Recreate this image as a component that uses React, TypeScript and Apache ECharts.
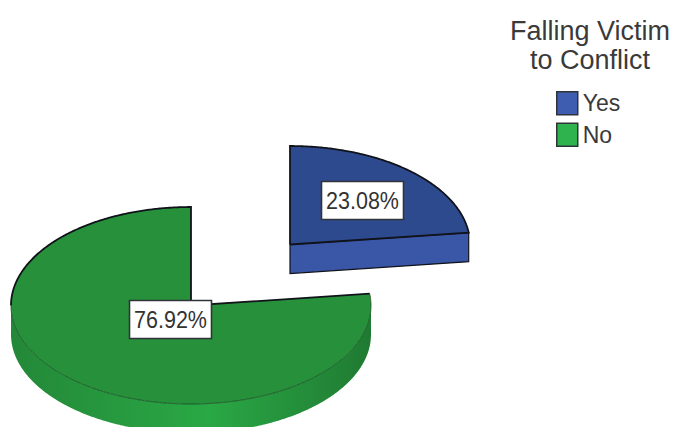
import React, { useEffect, useRef } from "react";
import * as echarts from "echarts";

// Share of respondents per answer, in percent.
const categories = ["Yes", "No"];
const shares = [23.08, 76.92];
const legendTitle = "Falling Victim\nto Conflict";

const FONT = '"Liberation Sans", Arial, sans-serif';
const RX = 180;
const RY = 98.5;
const DEPTH = 29;
const FIRST_ANGLE = 90; // the first slice starts at twelve o'clock and runs clockwise

// Per-slice drawing styles and placement (apex position, label offset from apex).
const looks = [
  {
    apex: [290, 244.5],
    label: [72.5, -44],
    top: "#2e4a8e",
    wall: "#3a56a6",
    swatch: "#3e5cb0",
    wallStops: ["#3a56a6", "#3a56a6", "#3a56a6"],
  },
  {
    apex: [191, 305.5],
    label: [-20.5, 14],
    top: "#26913a",
    wall: "#2aa845",
    swatch: "#2fb34f",
    wallStops: ["#238838", "#2aa845", "#1f7a32"],
  },
];

const toRad = (deg: number) => (deg * Math.PI) / 180;

function rimPoint(cx: number, cy: number, deg: number) {
  const a = toRad(deg);
  return [cx + RX * Math.cos(a), cy - RY * Math.sin(a)];
}

function rimPoints(cx: number, cy: number, from: number, to: number) {
  const pts: number[][] = [];
  const steps = Math.max(2, Math.ceil(Math.abs(to - from) * 2));
  for (let i = 0; i <= steps; i++) {
    pts.push(rimPoint(cx, cy, from + ((to - from) * i) / steps));
  }
  return pts;
}

function sliceRange(index: number) {
  const total = shares.reduce((s, v) => s + v, 0);
  const before = shares.slice(0, index).reduce((s, v) => s + v, 0);
  const start = FIRST_ANGLE - (before / total) * 360;
  const end = start - (shares[index] / total) * 360;
  return [start, end];
}

function makeRenderItem(index: number) {
  return (_params: any, api: any) => {
    const share = api.value(0);
    const look = looks[index];
    const [cx, cy] = look.apex;
    const [start, end] = sliceRange(index);
    const children: any[] = [];
    const outline = "#10131a";
    const heavy = { fill: "none", stroke: outline, lineWidth: 1.8 };

    // Outer wall: only the part of the rim on the near half of the ellipse shows.
    const wallFrom = Math.min(start, 0);
    const wallTo = Math.max(end, -180);
    if (wallFrom > wallTo) {
      const upper = rimPoints(cx, cy, wallFrom, wallTo);
      const lower = upper.map(([x, y]) => [x, y + DEPTH]).reverse();
      children.push({
        type: "polygon",
        shape: { points: [...upper, ...lower] },
        style: {
          fill: new echarts.graphic.LinearGradient(0, 0, 1, 0, [
            { offset: 0, color: look.wallStops[0] },
            { offset: 0.55, color: look.wallStops[1] },
            { offset: 1, color: look.wallStops[2] },
          ]),
        },
      });
    }

    // Cut face at the clockwise end of the slice, when it turns towards the viewer.
    if (Math.cos(toRad(end)) > 1e-6) {
      const tip = rimPoint(cx, cy, end);
      children.push({
        type: "polygon",
        shape: {
          points: [
            [cx, cy],
            tip,
            [tip[0], tip[1] + DEPTH],
            [cx, cy + DEPTH],
          ],
        },
        style: { fill: look.wall, stroke: outline, lineWidth: 1.2 },
      });
    }

    // Top face.
    const rim = rimPoints(cx, cy, start, end);
    children.push({
      type: "polygon",
      shape: { points: [[cx, cy], ...rim] },
      style: { fill: look.top },
    });

    // Heavy outline along the radii and the far rim, thin one along the near rim.
    if (end >= 0) {
      children.push({
        type: "polyline",
        shape: { points: [[cx, cy], ...rim, [cx, cy]] },
        style: heavy,
      });
    } else {
      const farEnd = end + 360;
      children.push({
        type: "polyline",
        shape: { points: [rimPoint(cx, cy, start), [cx, cy], ...rimPoints(cx, cy, farEnd, 180)] },
        style: heavy,
      });
      children.push({
        type: "polyline",
        shape: { points: rimPoints(cx, cy, 180, 360 + start) },
        style: { fill: "none", stroke: "#14481f", lineWidth: 0.8 },
      });
    }

    // Value label in a white box.
    const lx = cx + look.label[0];
    const ly = cy + look.label[1];
    children.push({
      type: "rect",
      shape: { x: lx - 41, y: ly - 19, width: 82, height: 38 },
      style: { fill: "#ffffff", stroke: "#30343a", lineWidth: 1.6 },
      z2: 10,
    });
    children.push({
      type: "text",
      x: lx,
      y: ly,
      scaleY: 1.14,
      style: {
        text: `${share.toFixed(2)}%`,
        fill: "#333333",
        font: `21.5px ${FONT}`,
        align: "center",
        verticalAlign: "middle",
      },
      z2: 11,
    });

    return { type: "group", children };
  };
}

export default function App() {
  const ref = useRef<HTMLDivElement>(null);

  useEffect(() => {
    document.body.style.margin = "0";
    const chart = echarts.init(ref.current!, undefined, { renderer: "svg" });
    chart.setOption({
      animation: false,
      backgroundColor: "#ffffff",
      title: {
        text: legendTitle,
        left: 590,
        top: 16,
        textAlign: "center",
        padding: 0,
        textStyle: {
          fontFamily: FONT,
          fontSize: 27,
          fontWeight: "normal",
          lineHeight: 29,
          color: "#3a3a3a",
        },
      },
      legend: {
        orient: "vertical",
        left: 556,
        top: 91,
        padding: 0,
        itemWidth: 21,
        itemHeight: 23,
        itemGap: 7,
        icon: "rect",
        selectedMode: false,
        textStyle: {
          fontFamily: FONT,
          fontSize: 23,
          lineHeight: 23,
          color: "#3a3a3a",
        },
        data: categories.map((name, i) => ({
          name,
          itemStyle: { color: looks[i].swatch, borderColor: "#30343a", borderWidth: 1.5 },
        })),
      },
      series: categories.map((name, i) => ({
        type: "custom",
        name,
        coordinateSystem: "none",
        silent: true,
        z: i === 0 ? 2 : 3,
        itemStyle: { color: looks[i].swatch },
        renderItem: makeRenderItem(i),
        data: [[shares[i]]],
      })),
    });
    return () => chart.dispose();
  }, []);

  return <div ref={ref} style={{ width: 673, height: 427, overflow: "hidden" }} />;
}
